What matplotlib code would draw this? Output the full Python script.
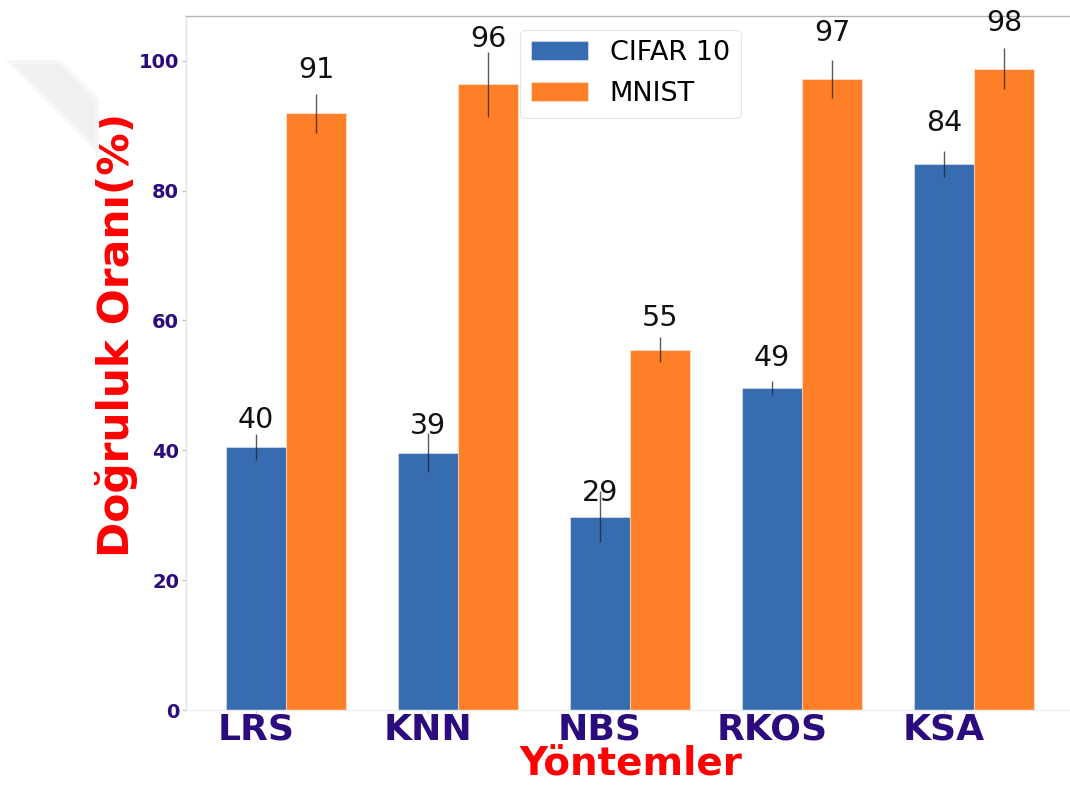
import matplotlib
matplotlib.use("Agg")
import matplotlib.pyplot as plt
from matplotlib.patches import Polygon
import numpy as np

# Methods and accuracy results (mean %, std) per dataset
methods = ["LRS", "KNN", "NBS", "RKOS", "KSA"]
cifar_mean = [40.5, 39.6, 29.8, 49.6, 84.1]
cifar_std = [2.0, 3.0, 3.9, 1.1, 2.0]
mnist_mean = [91.9, 96.4, 55.5, 97.2, 98.8]
mnist_std = [3.0, 5.0, 1.9, 2.9, 3.1]
series_names = ["CIFAR 10", "MNIST"]
yticks = [0, 20, 40, 60, 80, 100]

BLUE = "#386cb0"
ORANGE = "#fe7f28"
TICK_COLOR = "#2b0b7e"
RED = "#ff0000"

W, H = 1070, 786
fig = plt.figure(figsize=(W / 100, H / 100), dpi=100)

# faint decorative band in the upper-left corner
band = Polygon([(10 / W, 1 - 62 / H), (60 / W, 1 - 62 / H), (97 / W, 1 - 100 / H),
                (97 / W, 1 - 150 / H)], closed=True, transform=fig.transFigure,
               facecolor="#f0f0f0", edgecolor="#f6f6f6", linewidth=3, zorder=0)
fig.patches.append(band)

ax = fig.add_axes([186 / W, 1 - 710 / H, (1075 - 186) / W, (710 - 16) / H])

x = np.arange(len(methods))
width = 0.35
err_style = dict(ecolor="#222222", elinewidth=1.0, alpha=0.75, capsize=0)

b1 = ax.bar(x, cifar_mean, width, yerr=cifar_std, color=BLUE,
            edgecolor=(1, 1, 1, 0.4), linewidth=0.8, error_kw=err_style,
            label=series_names[0])
b2 = ax.bar(x + width, mnist_mean, width, yerr=mnist_std, color=ORANGE,
            edgecolor=(1, 1, 1, 0.4), linewidth=0.8, error_kw=err_style,
            label=series_names[1])

# value labels above each bar
for bars, vals in ((b1, cifar_mean), (b2, mnist_mean)):
    for rect, v in zip(bars, vals):
        ax.text(rect.get_x() + rect.get_width() / 2, 1.05 * v, str(int(v)),
                ha="center", va="bottom", fontsize=20.5, color="#111111")

ax.set_xlim(-0.407, (1075 - 256) / 172)
ax.set_ylim(0, 106.9)
ax.set_xticks(x)
ax.set_xticklabels(methods)
ax.set_yticks(yticks)

for lab in ax.get_xticklabels():
    lab.set_fontsize(26)
    lab.set_fontweight("bold")
    lab.set_color(TICK_COLOR)
for lab in ax.get_yticklabels():
    lab.set_fontsize(14)
    lab.set_fontweight("bold")
    lab.set_color(TICK_COLOR)

ax.tick_params(axis="x", length=2, color="#cccccc", pad=0)
ax.tick_params(axis="y", length=3, color="#bbbbbb", pad=2)

ax.spines["top"].set_color("#b5b5b5")
ax.spines["left"].set_color("#e3e3e3")
ax.spines["bottom"].set_color("#eeeeee")
ax.spines["right"].set_visible(False)
for s in ("top", "left", "bottom"):
    ax.spines[s].set_linewidth(1.0)

ax.set_xlabel("Yöntemler", fontsize=28, fontweight="bold", color=RED)
ax.xaxis.set_label_coords(0.5, (710 - 745) / 694)
ax.set_ylabel("Doğruluk Oranı(%)", fontsize=30.5, fontweight="bold", color=RED)
ax.yaxis.set_label_coords((138 - 186) / 889, (710 - 335) / 694)

leg = ax.legend(loc="upper center", fontsize=19.5, frameon=True, fancybox=True,
                handlelength=2.1, labelspacing=0.55, borderaxespad=0.5)
leg.get_frame().set_edgecolor("#dddddd")
leg.get_frame().set_linewidth(0.8)

fig.savefig("out.png", dpi=100)
